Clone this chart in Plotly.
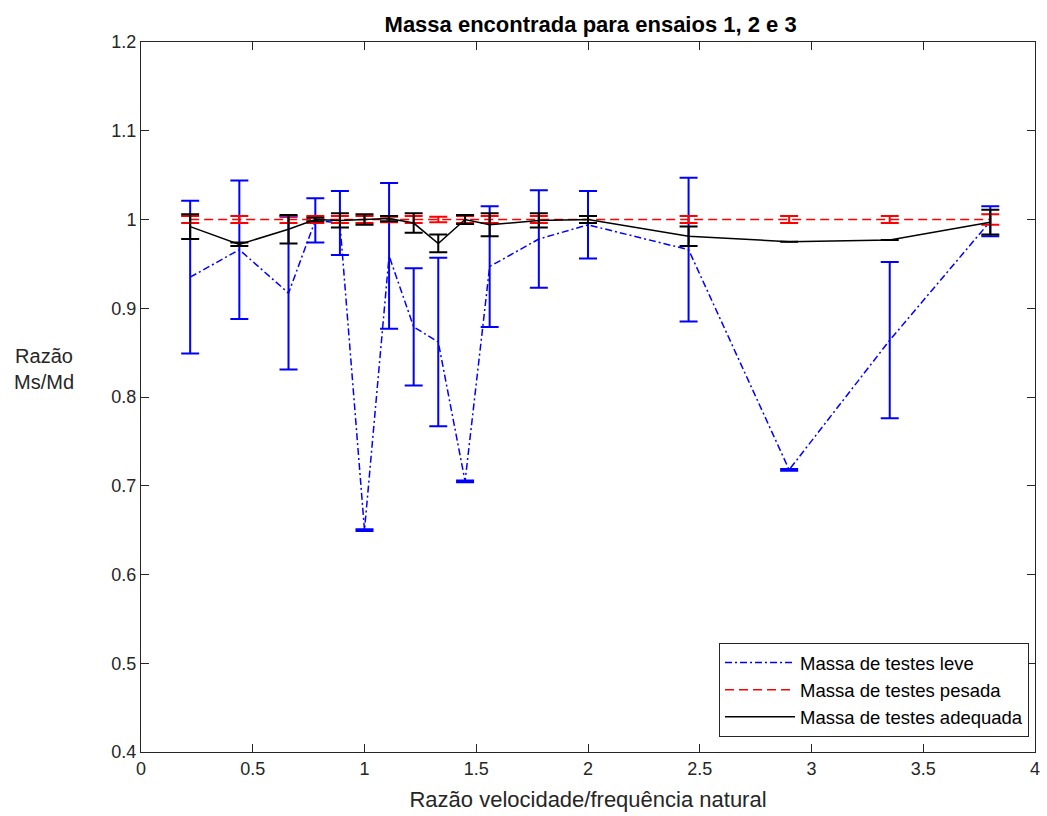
import plotly.graph_objects as go

# Data
x = [0.22, 0.44, 0.66, 0.78, 0.89, 1.00, 1.11, 1.22, 1.33, 1.45, 1.56, 1.78, 2.00, 2.45, 2.90, 3.35, 3.80]

leve = [0.935, 0.966, 0.917, 0.999, 0.996, 0.650, 0.959, 0.879, 0.862, 0.705, 0.947, 0.978, 0.994, 0.966, 0.718, 0.864, 0.998]
leve_err = [0.086, 0.078, 0.086, 0.025, 0.036, 0.001, 0.082, 0.066, 0.095, 0.001, 0.068, 0.055, 0.038, 0.081, 0.001, 0.088, 0.017]

pesada = [1.000] * 17
pesada_err = [0.004, 0.004, 0.004, 0.004, 0.004, 0.004, 0.003, 0.004, 0.003, 0.004, 0.004, 0.004, 0.004, 0.004, 0.004, 0.004, 0.006]

adequada = [0.992, 0.972, 0.989, 1.000, 0.999, 1.000, 1.001, 0.996, 0.973, 1.000, 0.994, 0.999, 1.000, 0.981, 0.975, 0.977, 0.997]
adequada_err = [0.014, 0.002, 0.016, 0.002, 0.008, 0.006, 0.003, 0.011, 0.010, 0.005, 0.013, 0.008, 0.004, 0.011, None, None, 0.014]

x_ticks = [0, 0.5, 1, 1.5, 2, 2.5, 3, 3.5, 4]
x_tick_text = ["0", "0.5", "1", "1.5", "2", "2.5", "3", "3.5", "4"]
y_ticks = [0.4, 0.5, 0.6, 0.7, 0.8, 0.9, 1.0, 1.1, 1.2]
y_tick_text = ["0.4", "0.5", "0.6", "0.7", "0.8", "0.9", "1", "1.1", "1.2"]

FONT = "Liberation Sans, Arial, sans-serif"
AX = "#262626"

fig = go.Figure()
fig.add_trace(go.Scatter(
    x=x, y=leve, mode="lines", name="Massa de testes leve",
    line=dict(color="#0000ff", width=1.5, dash="7px,3px,2px,3px"),
    error_y=dict(type="data", array=leve_err, visible=True, color="#0000ff", thickness=2, width=9),
))
fig.add_trace(go.Scatter(
    x=x, y=pesada, mode="lines", name="Massa de testes pesada",
    line=dict(color="#ff0000", width=1.5, dash="9px,5px"),
    error_y=dict(type="data", array=pesada_err, visible=True, color="#ff0000", thickness=2, width=9),
))
fig.add_trace(go.Scatter(
    x=x, y=adequada, mode="lines", name="Massa de testes adequada",
    line=dict(color="#000000", width=1.5),
    error_y=dict(type="data", array=adequada_err, visible=True, color="#000000", thickness=2, width=9),
))

fig.update_layout(
    width=1047, height=816,
    margin=dict(l=141, r=7, t=42, b=64),
    paper_bgcolor="white", plot_bgcolor="white",
    font=dict(family=FONT, color=AX, size=18),
    title=dict(text="<b>Massa encontrada para ensaios 1, 2 e 3</b>", x=0.5641, xanchor="center",
               y=0.9706, yanchor="middle", font=dict(size=22, color="#000000", family=FONT)),
    showlegend=True,
    legend=dict(x=0.9933, y=0.021, xanchor="right", yanchor="bottom",
                bgcolor="white", bordercolor="#262626", borderwidth=1,
                font=dict(size=18.5, color="#000000", family=FONT), itemwidth=70,
                tracegroupgap=0),
)
fig.update_xaxes(
    range=[0, 4], tickvals=x_ticks, ticktext=x_tick_text,
    showgrid=False, zeroline=False, showline=True, linecolor=AX, linewidth=1,
    mirror="ticks", ticks="inside", ticklen=8, tickcolor=AX,
    tickfont=dict(size=18, color=AX),
    title=dict(text="Razão velocidade/frequência natural", font=dict(size=22, color=AX), standoff=14),
)
fig.update_yaxes(
    range=[0.4, 1.2], tickvals=y_ticks, ticktext=y_tick_text,
    showgrid=False, zeroline=False, showline=True, linecolor=AX, linewidth=1,
    mirror="ticks", ticks="inside", ticklen=8, tickcolor=AX,
    tickfont=dict(size=18, color=AX),
)
fig.add_annotation(
    text="Razão<br>Ms/Md", xref="paper", yref="paper", x=-0.1085, y=0.539,
    xanchor="center", yanchor="middle", showarrow=False,
    font=dict(size=20, color=AX, family=FONT), align="center",
)

fig.write_html("out.html")
